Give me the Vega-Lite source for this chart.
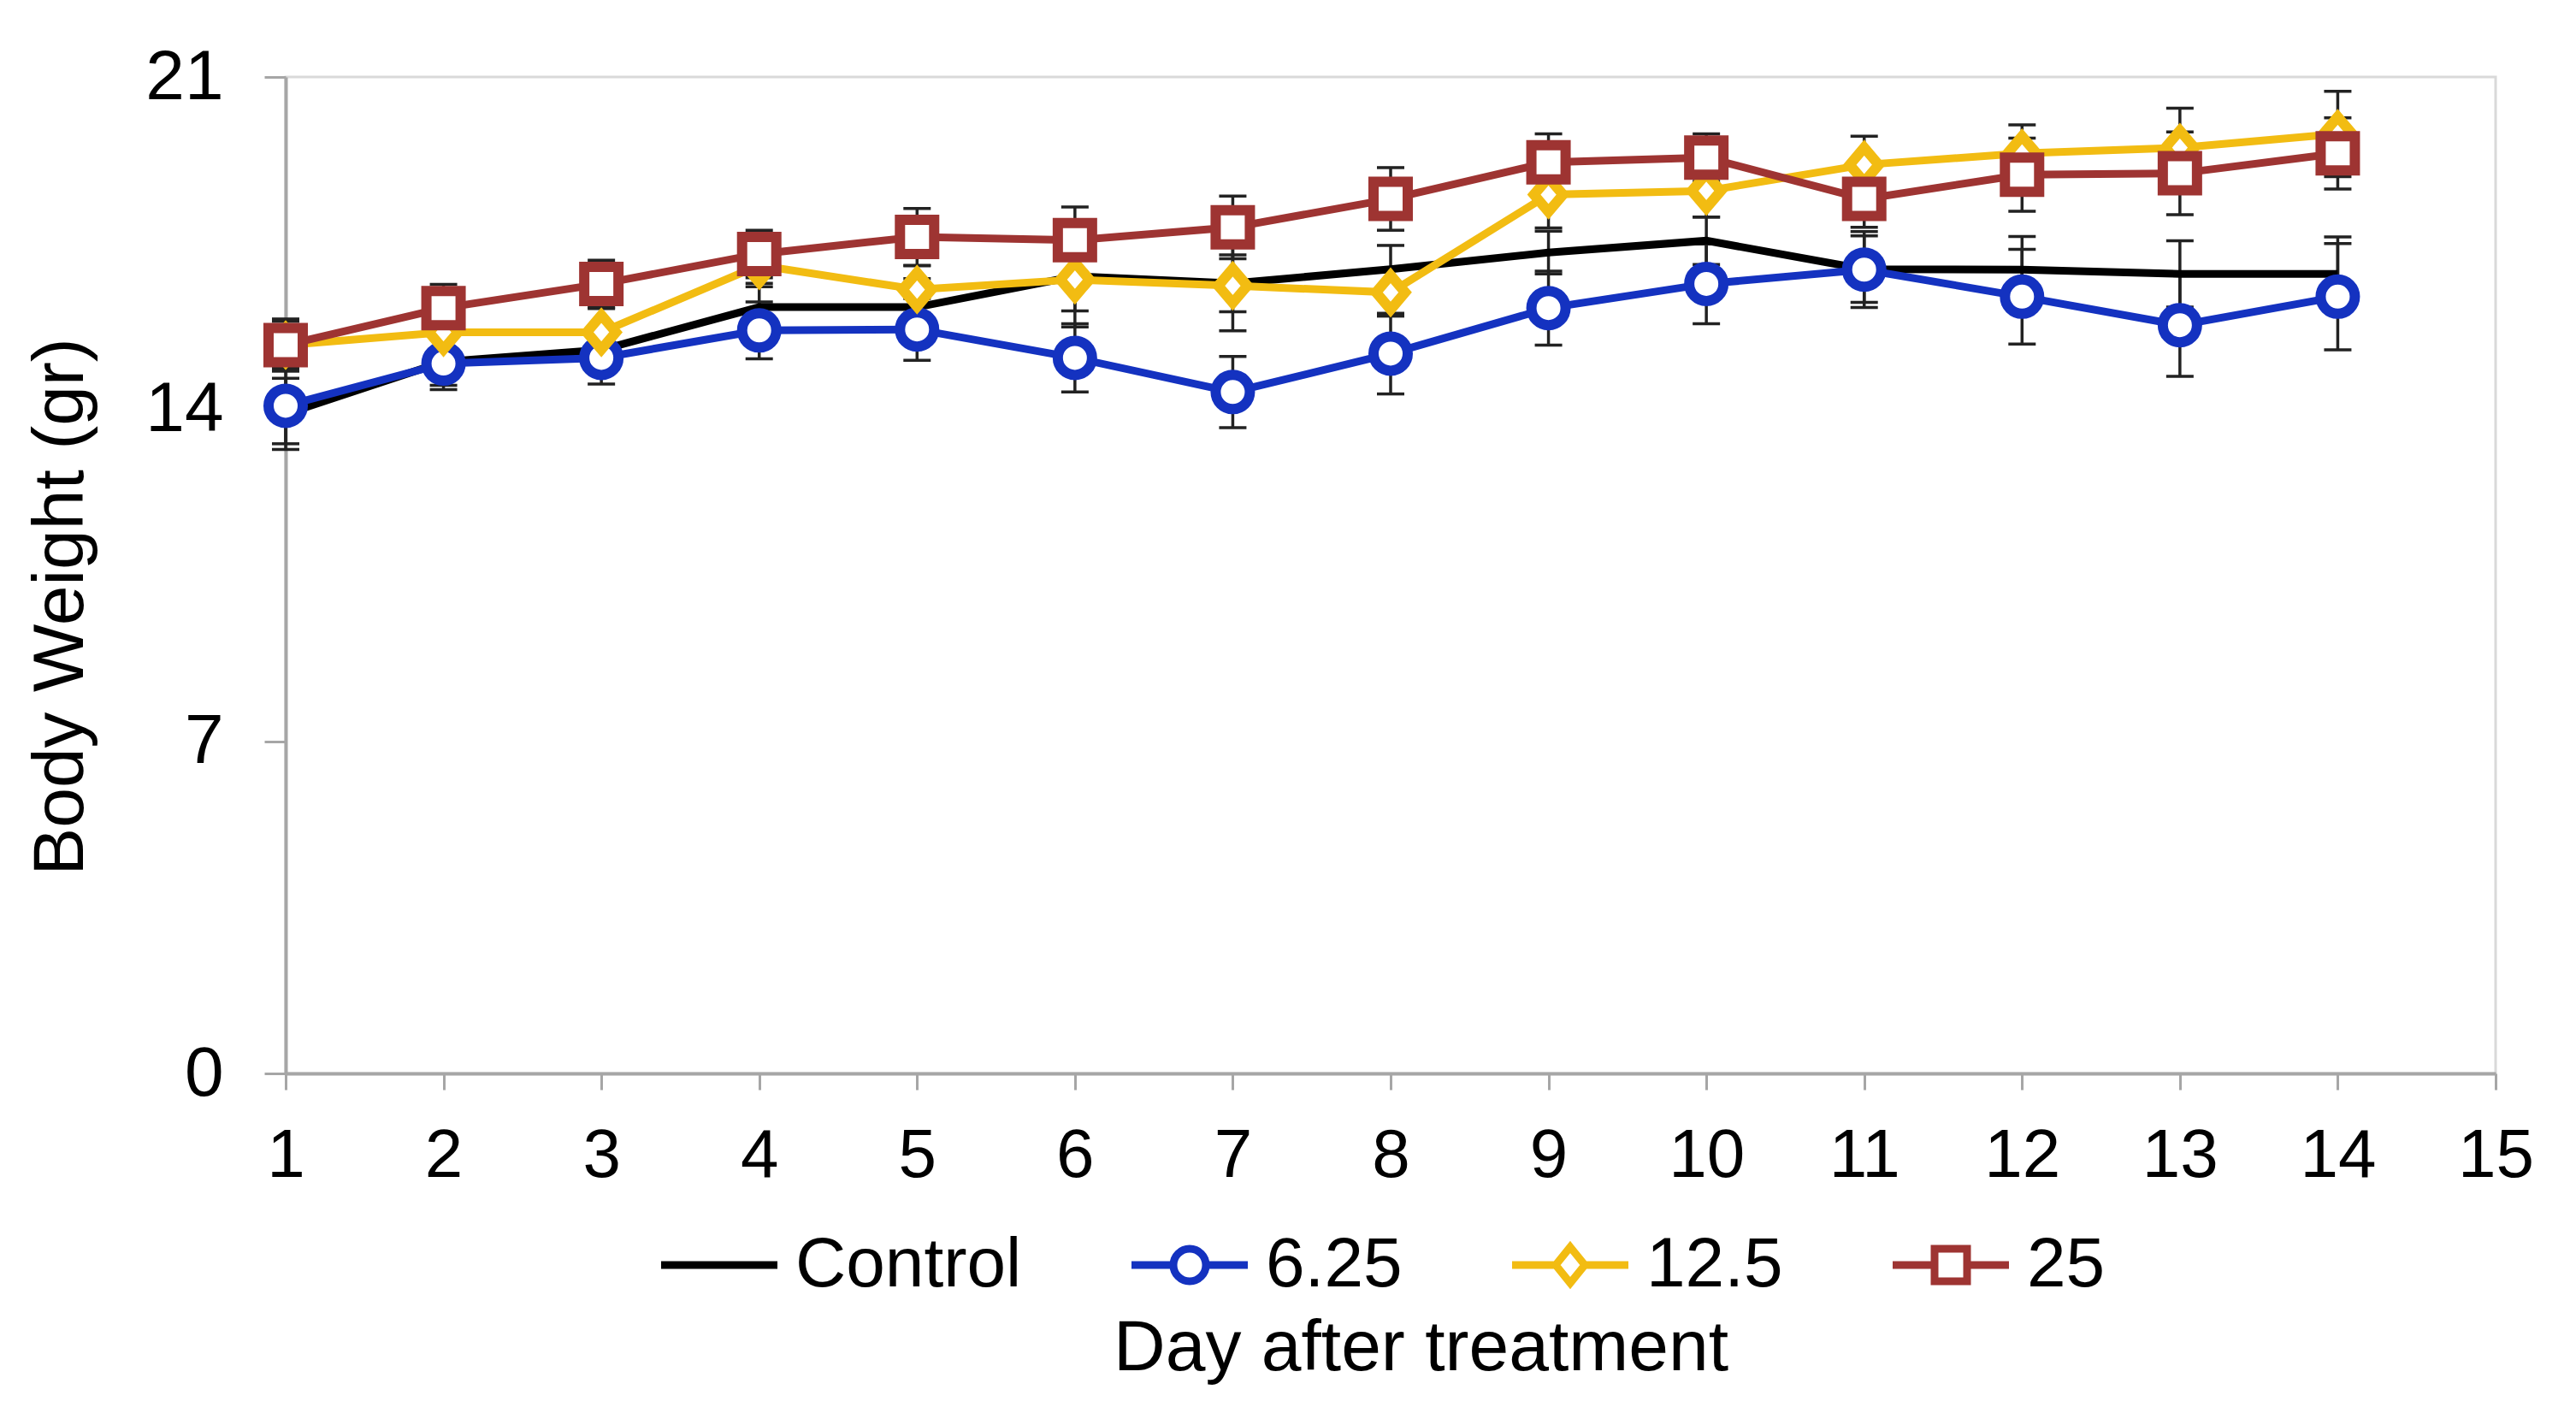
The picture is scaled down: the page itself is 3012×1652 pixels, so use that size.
{
  "$schema": "https://vega.github.io/schema/vega-lite/v6.json",
  "width": 2584,
  "height": 1165,
  "autosize": {"type": "none"},
  "padding": {"left": 334, "top": 90, "right": 94, "bottom": 397},
  "background": "white",
  "config": {
    "font": "Liberation Sans",
    "view": {"stroke": "#d9d9d9", "strokeWidth": 3}
  },
  "data": {
    "values": [
      {"day": 1, "group": "Control", "w": 13.9, "lo": 13.15, "hi": 14.65},
      {"day": 2, "group": "Control", "w": 15.0, "lo": 14.5, "hi": 15.5},
      {"day": 3, "group": "Control", "w": 15.25, "lo": 14.75, "hi": 15.75},
      {"day": 4, "group": "Control", "w": 16.15, "lo": 15.65, "hi": 16.65},
      {"day": 5, "group": "Control", "w": 16.15, "lo": 15.55, "hi": 16.75},
      {"day": 6, "group": "Control", "w": 16.8, "lo": 16.07, "hi": 17.53},
      {"day": 7, "group": "Control", "w": 16.65, "lo": 16.05, "hi": 17.25},
      {"day": 8, "group": "Control", "w": 16.95, "lo": 16.45, "hi": 17.45},
      {"day": 9, "group": "Control", "w": 17.3, "lo": 16.85, "hi": 17.75},
      {"day": 10, "group": "Control", "w": 17.55, "lo": 17.05, "hi": 18.05},
      {"day": 11, "group": "Control", "w": 16.95, "lo": 16.25, "hi": 17.65},
      {"day": 12, "group": "Control", "w": 16.94, "lo": 16.24, "hi": 17.64},
      {"day": 13, "group": "Control", "w": 16.85, "lo": 16.15, "hi": 17.55},
      {"day": 14, "group": "Control", "w": 16.85, "lo": 16.07, "hi": 17.63},
      {"day": 1, "group": "6.25", "w": 14.07, "lo": 13.27, "hi": 14.87},
      {"day": 2, "group": "6.25", "w": 14.96, "lo": 14.41, "hi": 15.51},
      {"day": 3, "group": "6.25", "w": 15.08, "lo": 14.53, "hi": 15.63},
      {"day": 4, "group": "6.25", "w": 15.66, "lo": 15.06, "hi": 16.26},
      {"day": 5, "group": "6.25", "w": 15.68, "lo": 15.03, "hi": 16.33},
      {"day": 6, "group": "6.25", "w": 15.08, "lo": 14.36, "hi": 15.8},
      {"day": 7, "group": "6.25", "w": 14.36, "lo": 13.61, "hi": 15.11},
      {"day": 8, "group": "6.25", "w": 15.17, "lo": 14.32, "hi": 16.02},
      {"day": 9, "group": "6.25", "w": 16.13, "lo": 15.35, "hi": 16.91},
      {"day": 10, "group": "6.25", "w": 16.64, "lo": 15.8, "hi": 17.48},
      {"day": 11, "group": "6.25", "w": 16.94, "lo": 16.14, "hi": 17.74},
      {"day": 12, "group": "6.25", "w": 16.37, "lo": 15.37, "hi": 17.37},
      {"day": 13, "group": "6.25", "w": 15.77, "lo": 14.69, "hi": 16.85},
      {"day": 14, "group": "6.25", "w": 16.37, "lo": 15.25, "hi": 17.49},
      {"day": 1, "group": "12.5", "w": 15.35, "lo": 14.85, "hi": 15.85},
      {"day": 2, "group": "12.5", "w": 15.62, "lo": 15.12, "hi": 16.12},
      {"day": 3, "group": "12.5", "w": 15.62, "lo": 15.12, "hi": 16.12},
      {"day": 4, "group": "12.5", "w": 17.03, "lo": 16.58, "hi": 17.48},
      {"day": 5, "group": "12.5", "w": 16.52, "lo": 16.02, "hi": 17.02},
      {"day": 6, "group": "12.5", "w": 16.73, "lo": 15.73, "hi": 17.73},
      {"day": 7, "group": "12.5", "w": 16.6, "lo": 15.65, "hi": 17.55},
      {"day": 8, "group": "12.5", "w": 16.46, "lo": 15.96, "hi": 16.96},
      {"day": 9, "group": "12.5", "w": 18.52, "lo": 17.82, "hi": 19.22},
      {"day": 10, "group": "12.5", "w": 18.6, "lo": 18.05, "hi": 19.15},
      {"day": 11, "group": "12.5", "w": 19.15, "lo": 18.55, "hi": 19.75},
      {"day": 12, "group": "12.5", "w": 19.39, "lo": 18.79, "hi": 19.99},
      {"day": 13, "group": "12.5", "w": 19.51, "lo": 18.68, "hi": 20.34},
      {"day": 14, "group": "12.5", "w": 19.8, "lo": 18.9, "hi": 20.7},
      {"day": 1, "group": "25", "w": 15.35, "lo": 14.8, "hi": 15.9},
      {"day": 2, "group": "25", "w": 16.13, "lo": 15.63, "hi": 16.63},
      {"day": 3, "group": "25", "w": 16.64, "lo": 16.14, "hi": 17.14},
      {"day": 4, "group": "25", "w": 17.27, "lo": 16.77, "hi": 17.77},
      {"day": 5, "group": "25", "w": 17.63, "lo": 17.03, "hi": 18.23},
      {"day": 6, "group": "25", "w": 17.56, "lo": 16.86, "hi": 18.26},
      {"day": 7, "group": "25", "w": 17.83, "lo": 17.17, "hi": 18.49},
      {"day": 8, "group": "25", "w": 18.43, "lo": 17.77, "hi": 19.09},
      {"day": 9, "group": "25", "w": 19.2, "lo": 18.6, "hi": 19.8},
      {"day": 10, "group": "25", "w": 19.3, "lo": 18.8, "hi": 19.8},
      {"day": 11, "group": "25", "w": 18.43, "lo": 17.83, "hi": 19.03},
      {"day": 12, "group": "25", "w": 18.94, "lo": 18.17, "hi": 19.71},
      {"day": 13, "group": "25", "w": 18.97, "lo": 18.1, "hi": 19.84},
      {"day": 14, "group": "25", "w": 19.39, "lo": 18.64, "hi": 20.14}
    ]
  },
  "encoding": {
    "x": {
      "field": "day",
      "type": "quantitative",
      "scale": {"domain": [1, 15], "nice": false, "zero": false},
      "axis": {
        "values": [1, 2, 3, 4, 5, 6, 7, 8, 9, 10, 11, 12, 13, 14, 15],
        "format": "d",
        "grid": false,
        "domainColor": "#a6a6a6",
        "domainWidth": 4,
        "tickColor": "#a6a6a6",
        "tickWidth": 3,
        "tickSize": 19,
        "labelFontSize": 80,
        "labelPadding": 38,
        "labelColor": "#000000",
        "labelOverlap": false,
        "labelFlush": false,
        "title": "Day after treatment",
        "titleFontSize": 84,
        "titleFontWeight": "normal",
        "titleColor": "#000000",
        "titlePadding": 144,
        "titleX": 1327
      }
    }
  },
  "layer": [
    {
      "mark": {"type": "rule", "color": "#222222", "strokeWidth": 3.5},
      "encoding": {
        "y": {"field": "lo", "type": "quantitative", "scale": {"domain": [0, 21], "nice": false},
          "axis": {"values": [0, 7, 14, 21], "grid": false, "domainColor": "#a6a6a6", "domainWidth": 4, "tickColor": "#a6a6a6", "tickWidth": 3, "tickSize": 25, "labelFontSize": 82, "labelPadding": 48, "labelColor": "#000000", "title": "Body Weight (gr)", "titleFontSize": 84, "titleFontWeight": "normal", "titleColor": "#000000", "titlePadding": 55, "titleY": 619}},
        "y2": {"field": "hi"},
        "detail": {"field": "group", "type": "nominal"}
      }
    },
    {
      "mark": {"type": "tick", "orient": "horizontal", "color": "#222222", "size": 32, "thickness": 3.5, "opacity": 1},
      "encoding": {
        "y": {"field": "lo", "type": "quantitative", "scale": {"domain": [0, 21], "nice": false},
          "axis": {"values": [0, 7, 14, 21], "grid": false, "domainColor": "#a6a6a6", "domainWidth": 4, "tickColor": "#a6a6a6", "tickWidth": 3, "tickSize": 25, "labelFontSize": 82, "labelPadding": 48, "labelColor": "#000000", "title": "Body Weight (gr)", "titleFontSize": 84, "titleFontWeight": "normal", "titleColor": "#000000", "titlePadding": 55, "titleY": 619}}
      }
    },
    {
      "mark": {"type": "tick", "orient": "horizontal", "color": "#222222", "size": 32, "thickness": 3.5, "opacity": 1},
      "encoding": {
        "y": {"field": "hi", "type": "quantitative", "scale": {"domain": [0, 21], "nice": false},
          "axis": {"values": [0, 7, 14, 21], "grid": false, "domainColor": "#a6a6a6", "domainWidth": 4, "tickColor": "#a6a6a6", "tickWidth": 3, "tickSize": 25, "labelFontSize": 82, "labelPadding": 48, "labelColor": "#000000", "title": "Body Weight (gr)", "titleFontSize": 84, "titleFontWeight": "normal", "titleColor": "#000000", "titlePadding": 55, "titleY": 619}}
      }
    },
    {
      "mark": {"type": "line", "strokeWidth": 9},
      "encoding": {
        "y": {"field": "w", "type": "quantitative", "scale": {"domain": [0, 21], "nice": false},
          "axis": {"values": [0, 7, 14, 21], "grid": false, "domainColor": "#a6a6a6", "domainWidth": 4, "tickColor": "#a6a6a6", "tickWidth": 3, "tickSize": 25, "labelFontSize": 82, "labelPadding": 48, "labelColor": "#000000", "title": "Body Weight (gr)", "titleFontSize": 84, "titleFontWeight": "normal", "titleColor": "#000000", "titlePadding": 55, "titleY": 619}},
        "color": {
          "field": "group",
          "type": "nominal",
          "scale": {"domain": ["Control", "6.25", "12.5", "25"], "range": ["#000000", "#1432C0", "#F2BC12", "#9E3432"]},
          "legend": {
            "title": null,
            "orient": "none",
            "legendX": 466,
            "legendY": 1348,
            "direction": "horizontal",
            "columns": 4,
            "padding": 0,
            "symbolSize": 1600,
            "symbolStrokeWidth": 9,
            "labelFontSize": 82,
            "labelColor": "#000000",
            "labelOffset": 48,
            "labelLimit": 1000,
            "columnPadding": 110,
            "encode": {
              "symbols": {
                "update": {
                  "shape": {"signal": "datum.value === 'Control' ? 'M-3.4,0H3.4' : datum.value === '6.25' ? 'M-3.4,0H-0.95M0.95,0H3.4M0.95,0A0.95,0.95 0 1,1 -0.95,0A0.95,0.95 0 1,1 0.95,0Z' : datum.value === '12.5' ? 'M-3.4,0H-0.85M0.85,0H3.4M0,-1.05L0.85,0L0,1.05L-0.85,0Z' : 'M-3.4,0H-0.95M0.95,0H3.4M-0.95,-0.95H0.95V0.95H-0.95Z'"},
                  "fill": {"value": "white"},
                  "strokeWidth": {"value": 9},
                  "opacity": {"value": 1}
                }
              }
            }
          }
        }
      }
    },
    {
      "transform": [{"filter": "datum.group !== 'Control'"}],
      "mark": {"type": "point", "filled": false, "fill": "white", "strokeWidth": 12, "size": 1600, "opacity": 1},
      "encoding": {
        "y": {"field": "w", "type": "quantitative", "scale": {"domain": [0, 21], "nice": false},
          "axis": {"values": [0, 7, 14, 21], "grid": false, "domainColor": "#a6a6a6", "domainWidth": 4, "tickColor": "#a6a6a6", "tickWidth": 3, "tickSize": 25, "labelFontSize": 82, "labelPadding": 48, "labelColor": "#000000", "title": "Body Weight (gr)", "titleFontSize": 84, "titleFontWeight": "normal", "titleColor": "#000000", "titlePadding": 55, "titleY": 619}},
        "color": {"field": "group", "type": "nominal"},
        "shape": {
          "field": "group",
          "type": "nominal",
          "scale": {"domain": ["6.25", "12.5", "25"], "range": ["M1,0A1,1 0 1,1 -1,0A1,1 0 1,1 1,0Z", "M0,-1L0.85,0L0,1L-0.85,0Z", "M-1,-1H1V1H-1Z"]},
          "legend": null
        }
      }
    }
  ]
}
